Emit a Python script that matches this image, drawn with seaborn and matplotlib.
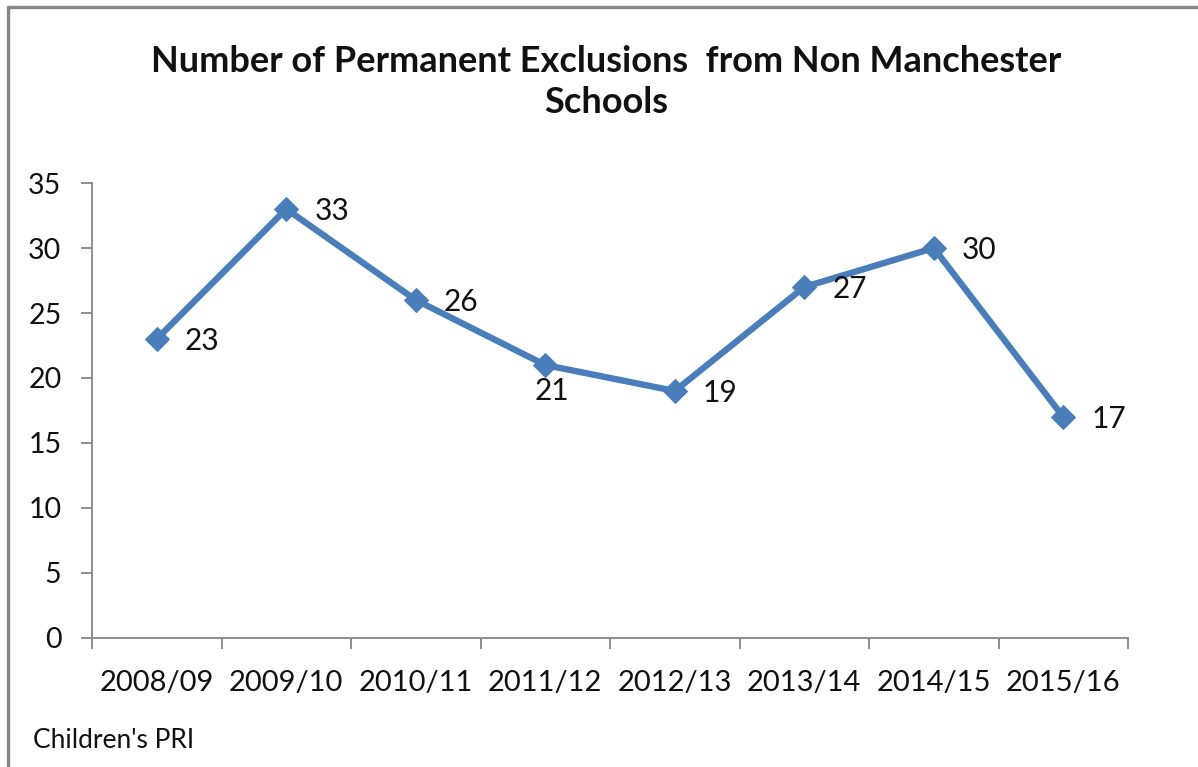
import matplotlib
matplotlib.use("Agg")
import matplotlib.pyplot as plt
import seaborn as sns
import pandas as pd
from matplotlib.lines import Line2D

# Chart data
years = ["2008/09", "2009/10", "2010/11", "2011/12", "2012/13", "2013/14", "2014/15", "2015/16"]
exclusions = [23, 33, 26, 21, 19, 27, 30, 17]
y_ticks = [0, 5, 10, 15, 20, 25, 30, 35]

title_text = "Number of Permanent Exclusions  from Non Manchester\nSchools"
source_text = "Children's PRI"

sns.set_theme(style="white")
plt.rcParams["font.family"] = ["Lato", "DejaVu Sans"]

LINE_BLUE = "#4A7EBB"
AXIS_GREY = "#868686"

fig = plt.figure(figsize=(11.98, 7.67), dpi=100)
ax = fig.add_axes([0.0768, 0.1682, 0.8648, 0.5932])

df = pd.DataFrame({"year": years, "count": exclusions})
sns.lineplot(data=df, x="year", y="count", ax=ax, color=LINE_BLUE, linewidth=4.6,
             marker="D", markersize=12, markeredgecolor=LINE_BLUE, sort=False)

ax.set_xlim(-0.5, len(years) - 0.5)
ax.set_ylim(0, 35)
ax.set_yticks(y_ticks)
ax.set_xticks(range(len(years)))
ax.set_xticklabels(years)
ax.set_xticks([i - 0.5 for i in range(len(years) + 1)], minor=True)
ax.set_xlabel("")
ax.set_ylabel("")

for side in ("top", "right"):
    ax.spines[side].set_visible(False)
for side in ("left", "bottom"):
    ax.spines[side].set_color(AXIS_GREY)
    ax.spines[side].set_linewidth(1.3)

ax.tick_params(axis="y", which="major", direction="out", length=8, width=1.3,
               color=AXIS_GREY, labelsize=20.5, pad=14, left=True)
ax.tick_params(axis="x", which="major", length=0, labelsize=21, pad=23, bottom=True)
ax.tick_params(axis="x", which="minor", direction="out", length=8, width=1.3,
               color=AXIS_GREY, bottom=True)
for lbl in ax.get_xticklabels() + ax.get_yticklabels():
    lbl.set_color("#111111")

# Value labels beside each point
for i, v in enumerate(exclusions):
    if i == 3:
        ax.annotate(str(v), (i, v), xytext=(7, -26), textcoords="offset pixels",
                    ha="center", va="center", fontsize=21.5, color="#111111")
    else:
        ax.annotate(str(v), (i, v), xytext=(28, -2), textcoords="offset pixels",
                    ha="left", va="center", fontsize=21.5, color="#111111")

fig.text(0.506, 0.893, title_text, ha="center", va="center", fontsize=26,
         fontweight="bold", color="#111111", linespacing=1.3)
fig.text(0.0275, 0.034, source_text, ha="left", va="center", fontsize=19,
         color="#111111")

# Outer frame (top and left edges)
fig.add_artist(Line2D([0.0067, 1.0], [0.9909, 0.9909], transform=fig.transFigure,
                      color=AXIS_GREY, linewidth=2.4))
fig.add_artist(Line2D([0.0067, 0.0067], [0.0, 0.9909], transform=fig.transFigure,
                      color=AXIS_GREY, linewidth=2.4))

fig.savefig("out.png", dpi=100, facecolor="white")
